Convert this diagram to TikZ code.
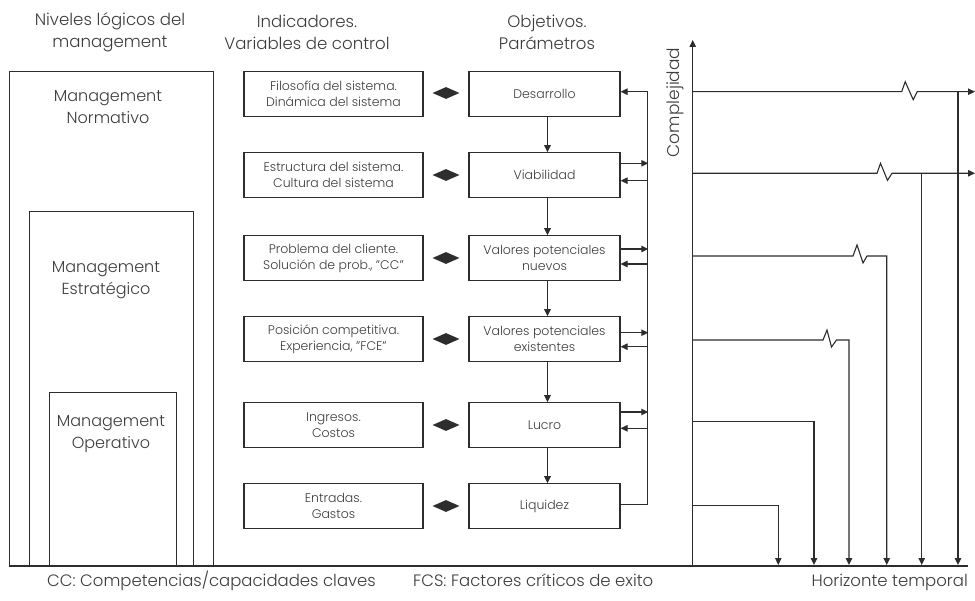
\documentclass[tikz,border=0pt]{standalone}
\usepackage{fontspec}
\IfFontExistsTF{Poppins Light}{\setmainfont{Poppins Light}}{\setmainfont{Poppins}}
\usetikzlibrary{arrows.meta,shapes.geometric}
\definecolor{ink}{RGB}{45,45,45}
\definecolor{txt}{RGB}{60,60,60}

\begin{document}
\begin{tikzpicture}[x=1pt,y=-1pt,
  line/.style={draw=ink,line width=1.1pt},
  arr/.style={line,-{Triangle[length=7pt,width=6.5pt]}},
  head/.style={text=txt,font=\fontsize{16.6}{22}\selectfont,align=center,inner sep=0},
  lvl/.style={draw=ink,line width=1.1pt,anchor=north west,inner sep=0},
  lvltext/.style={text=txt,font=\fontsize{16}{22}\selectfont,align=center,inner sep=0},
  ibox/.style={draw=ink,line width=1.1pt,minimum width=179pt,minimum height=44.5pt,
    inner sep=0,align=center,text=txt,font=\fontsize{12.5}{16}\selectfont},
  obox/.style={ibox,minimum width=151pt},
  link/.style={diamond,fill=ink,draw=none,minimum width=27pt,minimum height=12pt,inner sep=0},
  note/.style={text=txt,font=\fontsize{16.5}{22}\selectfont,inner sep=0}
]
\useasboundingbox (0,0) rectangle (975,601);

% column headings
\node[head] (hlev) at (110,32) {Niveles lógicos del\\management};
\node[head] (hind) at (307,32) {Indicadores.\\Variables de control};
\node[head] (hobj) at (547,32) {Objetivos.\\Parámetros};

% nested management levels
\node[lvl,minimum width=204pt,minimum height=495pt] (norm) at (9,71) {};
\node[lvl,minimum width=164pt,minimum height=355pt] (estr) at (29,211) {};
\node[lvl,minimum width=127pt,minimum height=174pt] (oper) at (49,392) {};
\node[lvltext] (tnorm) at (108,107) {Management\\Normativo};
\node[lvltext] (testr) at (106,280) {Management\\Estratégico};
\node[lvltext] (toper) at (111,434) {Management\\Operativo};

% indicators, links and objectives
\node[ibox] (i1) at (333.5,94.2) {Filosofía del sistema.\\Dinámica del sistema};
\node[ibox] (i2) at (333.5,175) {Estructura del sistema.\\Cultura del sistema};
\node[ibox] (i3) at (333.5,258) {Problema del cliente.\\Solución de prob., "CC"};
\node[ibox] (i4) at (333.5,339) {Posición competitiva.\\Experiencia, "FCE"};
\node[ibox] (i5) at (333.5,425) {Ingresos.\\Costos};
\node[ibox] (i6) at (333.5,506) {Entradas.\\Gastos};

\node[link] (d1) at (446,93) {};
\node[link] (d2) at (446,175) {};
\node[link] (d3) at (446,258) {};
\node[link] (d4) at (446,339) {};
\node[link] (d5) at (446,425) {};
\node[link] (d6) at (446,506) {};

\node[obox] (o1) at (544.5,94.2) {Desarrollo};
\node[obox] (o2) at (544.5,175) {Viabilidad};
\node[obox] (o3) at (544.5,258) {Valores potenciales\\nuevos};
\node[obox] (o4) at (544.5,339) {Valores potenciales\\existentes};
\node[obox] (o5) at (544.5,425) {Lucro};
\node[obox] (o6) at (544.5,506) {Liquidez};

\foreach \a/\b in {o1/o2,o2/o3,o3/o4,o4/o5,o5/o6}
  \draw[arr] ([xshift=3pt]\a.south) -- ([xshift=3pt]\b.north);

% feedback bus
\coordinate (fbT) at (647.7,91.7);
\coordinate (fbB) at (647.7,504.5);
\draw[line] (fbB) -- (fbT);
\draw[arr] (fbT) -- (o1.east |- fbT);
\draw[arr] ([yshift=11.7pt]o2.east) -- ++(27.7,0);
\draw[arr] ([yshift=-5.7pt]o2.east) ++(27.7,0) -- ([yshift=-5.7pt]o2.east);
\draw[arr] ([yshift=9pt]o3.east) -- ++(27.7,0);
\draw[arr] ([yshift=-6pt]o3.east) ++(27.7,0) -- ([yshift=-6pt]o3.east);
\draw[arr] ([yshift=6.3pt]o4.east) -- ++(27.7,0);
\draw[arr] ([yshift=-7.7pt]o4.east) ++(27.7,0) -- ([yshift=-7.7pt]o4.east);
\draw[arr] ([yshift=13pt]o5.east) -- ++(27.7,0);
\draw[arr] ([yshift=-3.3pt]o5.east) ++(27.7,0) -- ([yshift=-3.3pt]o5.east);
\draw[line] (o6.east |- fbB) -- (fbB);

% complexity axis
\coordinate (axB) at (692.7,566);
\coordinate (axT) at (692.7,40);
\draw[arr] (axB) -- (axT);
\node[note,rotate=90,font=\fontsize{17}{22}\selectfont] (cplx) at (675,102.5) {Complejidad};

% time-horizon lines
\coordinate (h1) at (692.7,91.7);
\coordinate (h2) at (692.7,173.3);
\coordinate (h3) at (692.7,256);
\coordinate (h4) at (692.7,340);
\coordinate (h5) at (692.7,421.7);
\coordinate (h6) at (692.7,505.3);
\coordinate (e1) at (975,91.7);
\coordinate (e2) at (975,173.3);
\coordinate (t1) at (958,565);
\coordinate (t2) at (921.7,565);
\coordinate (t3) at (886.7,565);
\coordinate (t4) at (849,565);
\coordinate (t5) at (814,565);
\coordinate (t6) at (778.3,565);

\draw[arr] (h1) -- (901.7,91.7) -- ++(3.5,-10) -- ++(8,18) -- ++(4,-8) -- (e1);
\draw[arr] (t1 |- h1) -- (t1);
\draw[arr] (h2) -- (877,173.3) -- ++(3.5,-10) -- ++(7,17) -- ++(4.5,-7) -- (e2);
\draw[arr] (t2 |- h2) -- (t2);
\draw[arr] (h3) -- (853,256) -- ++(4,-11) -- ++(6,18) -- ++(4,-7) -- (t3 |- h3) -- (t3);
\draw[arr] (h4) -- (823,340) -- ++(4,-10) -- ++(4.5,17) -- ++(5,-7) -- (t4 |- h4) -- (t4);
\draw[arr] (h5) -- (t5 |- h5) -- (t5);
\draw[arr] (h6) -- (t6 |- h6) -- (t6);

% base line
\coordinate (bW) at (9,566);
\coordinate (bE) at (968,566);
\draw[line] (bW) -- (bE);

% footnotes
\node[note,anchor=base west] (cc) at (47,586) {CC: Competencias/capacidades claves};
\node[note,anchor=base west] (fcs) at (413,586) {FCS: Factores críticos de exito};
\node[note,anchor=base east] (hor) at (968,586) {Horizonte temporal};
\end{tikzpicture}
\end{document}
